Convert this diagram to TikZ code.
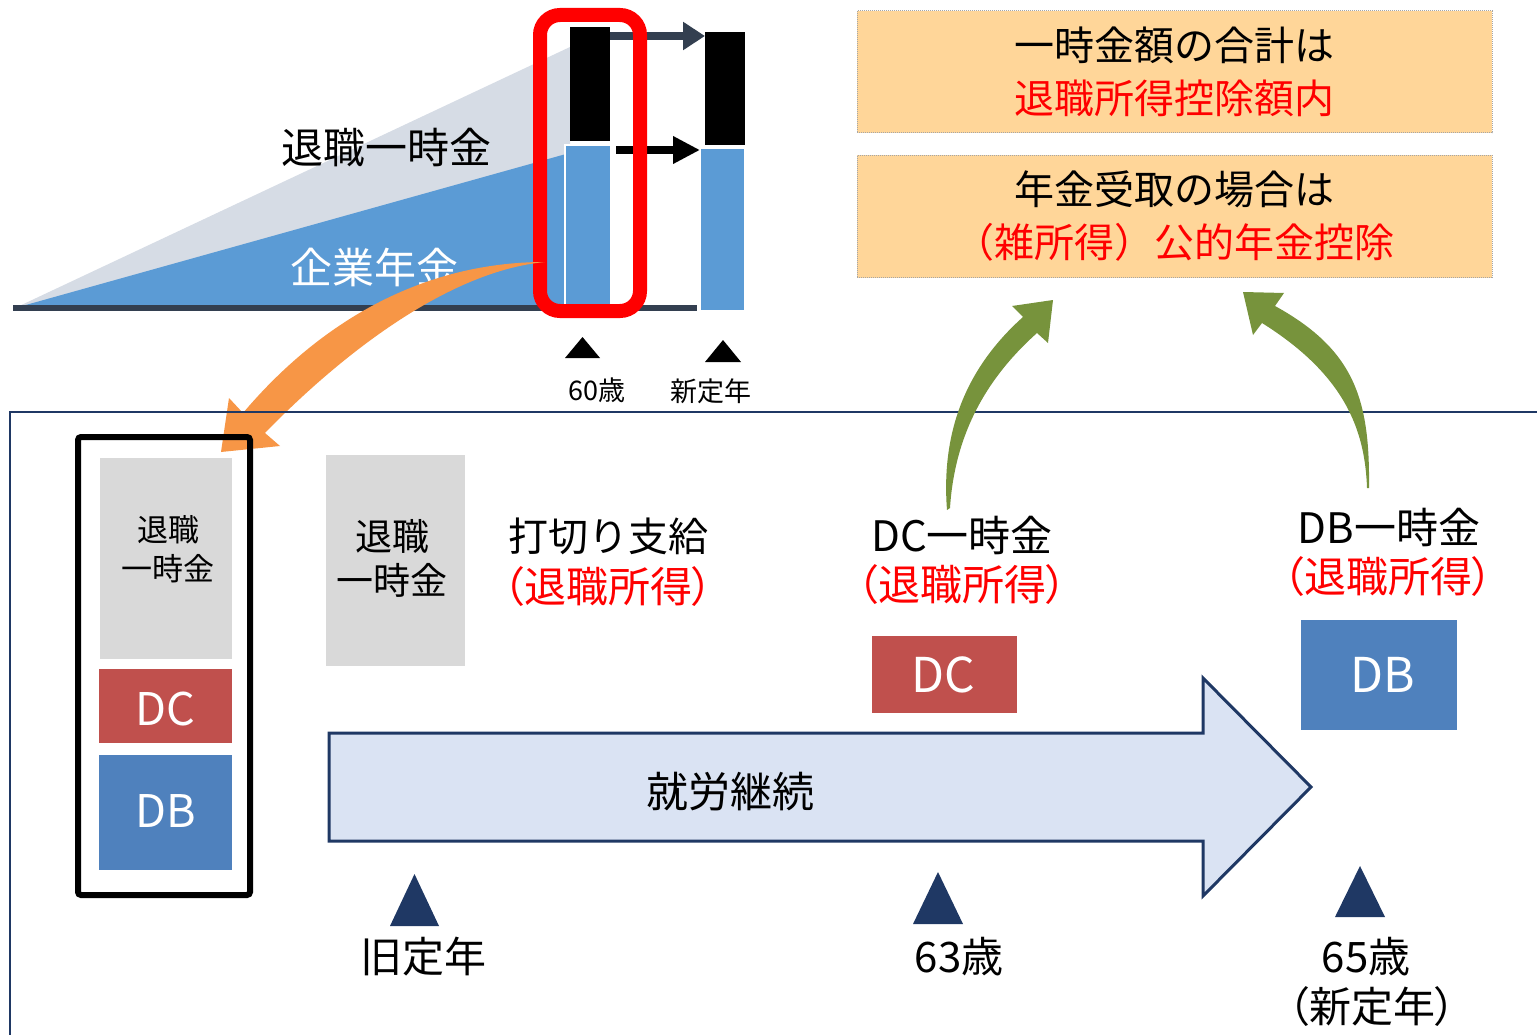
\documentclass[tikz,border=0pt]{standalone}
\usepackage{fontspec}
\setmainfont{Noto Sans CJK JP}
\newfontfamily\pfont[RawFeature=+palt]{Noto Sans CJK JP}
\usetikzlibrary{arrows.meta}
\definecolor{greytri}{HTML}{D6DCE5}
\definecolor{bluec}{HTML}{5B9BD5}
\definecolor{basec}{HTML}{333F50}
\definecolor{orangec}{HTML}{F79646}
\definecolor{greenc}{HTML}{77933C}
\definecolor{boxc}{HTML}{FFD699}
\definecolor{navy}{HTML}{1F3864}
\definecolor{arrowfill}{HTML}{DAE3F3}
\definecolor{dcc}{HTML}{C0504D}
\definecolor{dbc}{HTML}{4F81BD}
\definecolor{greybox}{HTML}{D9D9D9}
\definecolor{redc}{HTML}{FF0000}
\newcommand\fsz[1]{\fontsize{#1}{#1}\selectfont}
\begin{document}
\begin{tikzpicture}[x=1pt,y=-1pt,
  every node/.style={inner sep=0pt,outer sep=0pt},
  infobox/.style={fill=boxc,draw=gray!70,densely dotted,line width=1pt,minimum width=635pt,minimum height=122pt,align=center,font=\fontsize{40}{53}\selectfont},
  tag/.style={font=\fsz{#1}},
  redtag/.style={font=\pfont\fsz{42},text=redc},
  marker/.style={fill=navy}]
\useasboundingbox (0,0) rectangle (1537,1035);

% ---- top-left chart ----
\fill[greytri] (15,308) -- (570,47) -- (570,308) -- cycle;
\fill[bluec] (15,308) -- (566,154) -- (566,308) -- cycle;
\draw[basec,line width=6pt] (13,308) -- (697,308);

\node[fill=black,minimum width=40pt,minimum height=114pt] (bk60) at (590,84) {};
\node[fill=bluec,draw=white,line width=2pt,minimum width=46pt,minimum height=160pt] (bl60) at (588,225) {};
\node[fill=black,minimum width=40pt,minimum height=113pt] (bknew) at (725,88.5) {};
\node[fill=bluec,draw=white,line width=1.5pt,minimum width=45pt,minimum height=163pt] (blnew) at (722.5,229.5) {};

\draw[basec,line width=8pt,-{Triangle[length=22pt,width=27pt]}] ([yshift=-9pt]bk60.north east) -- ([yshift=-4pt]bknew.north west);
\draw[black,line width=8pt,-{Triangle[length=27pt,width=26pt]}] ([xshift=5pt,yshift=-5pt]bl60.north east) -- ([yshift=-2pt]blnew.north west);

\node[draw=redc,line width=14pt,rounded corners=20pt,minimum width=100pt,minimum height=296pt] (focus) at (590,163) {};

\node[tag=42] (lumpsum) at (386,148) {退職一時金};
\node[tag=42,text=white] (corp) at (374,267) {企業年金};

\fill[orangec] (545,262) .. controls (415,262) and (314,329) .. (243,413) -- (229,398) -- (221,452) -- (280,446) -- (265,433) .. controls (328,368) and (440,272) .. (545,262) -- cycle;

\fill (565,358) -- (600,358) -- (582.5,337) -- cycle;
\fill (705,362) -- (741,362) -- (723,340) -- cycle;
\node[tag=27] (age60) at (597,390) {60歳};
\node[tag=27] (newret) at (711,391) {新定年};

% ---- top-right boxes ----
\node[infobox] (sumbox) at (1174.5,72) {一時金額の合計は\\\textcolor{redc}{退職所得控除額内}};
\node[infobox] (penbox) at (1174.5,216.5) {年金受取の場合は\\\textcolor{redc}{（雑所得）公的年金控除}};

% ---- bottom frame ----
\draw[navy,line width=2.5pt] (1545,412) -- (10,412) -- (10,1045);

\node[draw=black,line width=6pt,rounded corners=3pt,minimum width=172pt,minimum height=458pt] (lumpbox) at (164,666) {};
\node[fill=greybox,minimum width=132pt,minimum height=201pt] (grey1) at (166,558.5) {};
\node[font=\fontsize{31}{39}\selectfont,align=center] (grey1t) at (168,549) {退職\\一時金};
\node[fill=dcc,minimum width=133pt,minimum height=74pt] (dc1) at (165.5,706) {};
\node[tag=45,text=white] (dc1t) at (165,709) {DC};
\node[fill=dbc,minimum width=133pt,minimum height=115pt] (db1) at (165.5,812.5) {};
\node[tag=45,text=white] (db1t) at (166,811) {DB};

\node[fill=greybox,minimum width=139pt,minimum height=211pt] (grey2) at (395.5,560.5) {};
\node[font=\fontsize{37}{44}\selectfont,align=center] (grey2t) at (392,558) {退職\\一時金};

\node[tag=40] (cutoff) at (608,536) {打切り支給};
\node[redtag] (cutoffr) at (608,587) {（退職所得）};
\node[tag=42] (dclump) at (962,535) {DC一時金};
\node[redtag] (dclumpr) at (962,585) {（退職所得）};
\node[tag=42] (dblump) at (1389,527) {DB一時金};
\node[redtag] (dblumpr) at (1388,577) {（退職所得）};

\node[fill=dcc,minimum width=145pt,minimum height=77pt] (dc2) at (944.5,674.5) {};
\node[tag=48,text=white] (dc2t) at (943,675) {DC};
\node[fill=dbc,minimum width=156pt,minimum height=110pt] (db2) at (1379,675) {};
\node[tag=48,text=white] (db2t) at (1383,675) {DB};

\draw[fill=arrowfill,draw=navy,line width=3pt,line join=miter] (329,733) -- (1203,733) -- (1203,678) -- (1311,787) -- (1203,896) -- (1203,841) -- (329,841) -- cycle;
\node[tag=42] (work) at (730,792) {就労継続};

\fill[marker] (390,926) -- (439,926) -- (414.5,874) -- cycle;
\fill[marker] (913,924) -- (963,924) -- (938,872) -- cycle;
\fill[marker] (1335,917) -- (1385,917) -- (1360,866) -- cycle;
\node[tag=42] (oldret) at (423,957) {旧定年};
\node[tag=42] (age63) at (959,957) {63歳};
\node[tag=42] (age65) at (1366,957) {65歳};
\node[font=\pfont\fsz{42}] (age65b) at (1372,1007) {（新定年）};

% ---- green arrows ----
\fill[greenc] (947,510) .. controls (940,420) and (975,360) .. (1023,317) -- (1012,306) -- (1053,300) -- (1048,343) -- (1037,333) .. controls (990,375) and (955,430) .. (950,508) -- cycle;
\fill[greenc] (1369,488) .. controls (1370,400) and (1355,350) .. (1275,306) -- (1284,293) -- (1243,292) -- (1253,335) -- (1262,323) .. controls (1345,375) and (1365,430) .. (1367,488) -- cycle;
\end{tikzpicture}
\end{document}
